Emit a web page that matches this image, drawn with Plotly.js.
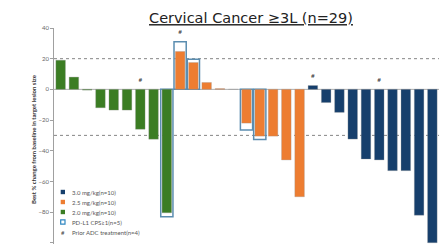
<!DOCTYPE html>
<html><head><meta charset="utf-8">
<script src="https://cdn.plot.ly/plotly-3.0.1.min.js"></script>
<style>html,body{margin:0;padding:0;background:#fff}#c{width:439px;height:244px}</style>
</head><body><div id="c"></div>
<script>
// Data (best % change per patient, sorted within dose groups)
const groupNames = ["2.0 mg/kg(n=10)", "2.5 mg/kg(n=10)", "3.0 mg/kg(n=10)"];
const green20 = [19, 8, -0.5, -12, -13.5, -13.5, -26, -32.5, -80.5];
const orange25 = [24.7, 17.5, 4.5, 0.5, 0, -22, -30.5, -30.5, -46, -70];
const blue30 = [2.5, -8.6, -15, -32.4, -45.4, -46, -53, -53, -82, -100];
// PD-L1 CPS>=1 outline boxes: patient index -> value
const pdl1Idx = [8, 9, 10, 14, 15];
const pdl1Val = [-83, 31, 19.7, -26.5, -32.6];
// Prior ADC treatment (#)
const adcIdx = [6, 9, 19, 24];
const refLines = [20, -30];
const yTicks = [40, 20, 0, -20, -40, -60, -80, -100];
const titleText = "Cervical Cancer ≥3L (n=29)";
const yTitle = "Best % change from baseline in target lesion size";
const legendLabels = ["3.0 mg/kg(n=10)", "2.5 mg/kg(n=10)", "2.0 mg/kg(n=10)", "PD-L1 CPS≥1(n=5)", "Prior ADC treatment(n=4)"];

const colors = {green: "#3b7d23", orange: "#ed7d31", blue: "#163f6c", box: "#5b8db0"};

const all = green20.concat(orange25, blue30);
const N = all.length;
const idx = (start, arr) => arr.map((_, i) => start + i);
const xg = idx(0, green20), xo = idx(green20.length, orange25), xb = idx(green20.length + orange25.length, blue30);

const traces = [];
traces.push({type: "bar", x: pdl1Idx, y: pdl1Val, width: 0.92,
  marker: {color: "rgba(255,255,255,0)", line: {color: colors.box, width: 1.5}}, hoverinfo: "skip"});
const barLine = {color: "rgba(150,150,150,0.6)", width: 0.5};
traces.push({type: "bar", x: xg, y: green20, width: 0.72, marker: {color: colors.green, line: barLine}});
traces.push({type: "bar", x: xo, y: orange25, width: 0.72, marker: {color: colors.orange, line: barLine}});
traces.push({type: "bar", x: xb, y: blue30, width: 0.72, marker: {color: colors.blue, line: barLine}});
// # markers
const adcY = adcIdx.map(i => {
  const b = pdl1Idx.indexOf(i);
  return Math.max(0, all[i], b >= 0 ? pdl1Val[b] : 0) + 6;
});
traces.push({type: "scatter", mode: "text", x: adcIdx, y: adcY, text: adcIdx.map(() => "#"),
  textfont: {size: 6.5, color: "#333", family: "Lato"}, hoverinfo: "skip"});

const shapes = [];
refLines.forEach(v => shapes.push({type: "line", xref: "paper", x0: 0, x1: 1, yref: "y", y0: v, y1: v,
  line: {color: "#666", width: 0.8, dash: "dot"}, layer: "below"}));
shapes.push({type: "line", xref: "paper", x0: 0, x1: 1, yref: "y", y0: 0, y1: 0,
  line: {color: "#999", width: 0.8}, layer: "below"});

// manual legend
const annotations = [];
const legColors = [colors.blue, colors.orange, colors.green];
const lx0 = 6.7 / 385, lx1 = 11 / 385, ltx = 16 / 385;
legendLabels.forEach((lab, i) => {
  const yc = 1 - (192 - 28 + i * 10) / 216;
  const h = 2.2 / 216;
  if (i < 3) {
    shapes.push({type: "rect", xref: "paper", yref: "paper", x0: lx0, x1: lx1, y0: yc - h, y1: yc + h,
      fillcolor: legColors[i], line: {width: 0}});
  } else if (i === 3) {
    shapes.push({type: "rect", xref: "paper", yref: "paper", x0: lx0, x1: lx1, y0: yc - h, y1: yc + h,
      fillcolor: "#fff", line: {color: "#2e86c1", width: 1.2}});
  } else {
    annotations.push({xref: "paper", yref: "paper", x: (lx0 + lx1) / 2, y: yc, text: "#", showarrow: false,
      font: {size: 6, color: "#444", family: "Lato"}, xanchor: "center", yanchor: "middle"});
  }
  annotations.push({xref: "paper", yref: "paper", x: ltx, y: yc, text: lab, showarrow: false,
    font: {size: 6, color: "#555", family: "Lato"}, xanchor: "left", yanchor: "middle"});
});
annotations.push({xref: "paper", yref: "paper", x: -21 / 385, y: 0.5 - 3 / 216, text: "<b>" + yTitle + "</b>", textangle: -90,
  showarrow: false, font: {size: 6, color: "#333", family: "Lato"}, xanchor: "center", yanchor: "middle"});

const layout = {
  width: 439, height: 244,
  margin: {l: 54, r: 0, t: 28, b: 0},
  barmode: "overlay", showlegend: false,
  paper_bgcolor: "#fff", plot_bgcolor: "#fff",
  title: {text: "<u>" + titleText + "</u>", x: 251 / 439, xanchor: "center", xref: "container",
    y: 1 - 18 / 244, yref: "container", yanchor: "middle", font: {family: "DejaVu Sans", size: 14.5, color: "#222"}},
  xaxis: {range: [-0.5, N - 0.5], showticklabels: false, showgrid: false, zeroline: false, showline: false, ticks: ""},
  yaxis: {range: [-100.8, 40], tickvals: yTicks, showgrid: false, zeroline: false, showline: true,
    linecolor: "#888", linewidth: 0.8, ticks: "outside", ticklen: 3, tickcolor: "#888", tickwidth: 0.8,
    tickfont: {size: 6, color: "#666", family: "Lato"}},
  shapes: shapes, annotations: annotations
};
Plotly.newPlot("c", traces, layout, {displayModeBar: false, staticPlot: true});
</script></body></html>
